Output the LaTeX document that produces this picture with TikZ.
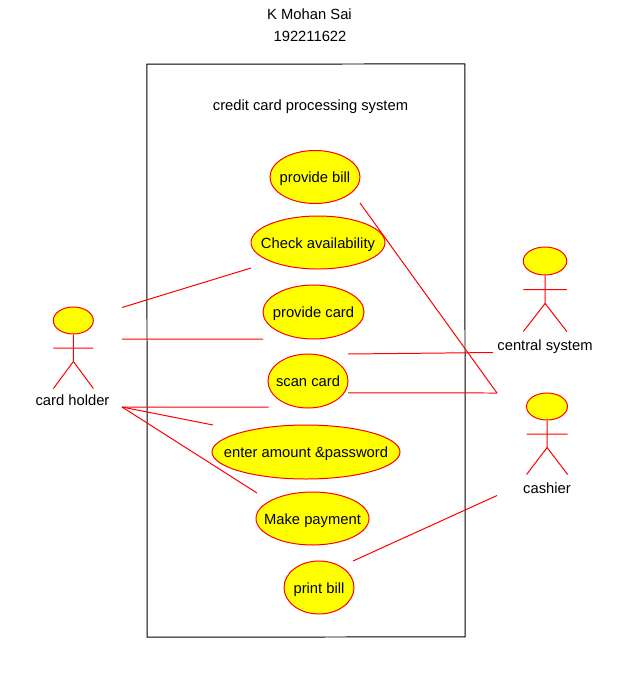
\documentclass[tikz,border=0pt]{standalone}
\usepackage{fontspec}
\setmainfont{Liberation Sans}
\usepackage{xcolor}
\usetikzlibrary{shapes.geometric}
\definecolor{umlred}{RGB}{255,0,0}
\definecolor{umlyellow}{RGB}{255,255,0}
\tikzset{
	usecase/.style={draw=umlred,fill=umlyellow,line width=0.567pt,ellipse,inner sep=0pt,text height=7pt,text depth=0.4pt,font=\fontsize{8.4}{10}\selectfont},
	label/.style={inner sep=0pt,text height=7pt,text depth=0.4pt,font=\fontsize{8.4}{10}\selectfont},
	link/.style={draw=umlred,line width=0.567pt},
}
% text inside an ellipse must not widen it
\newcommand{\uctext}[1]{\makebox[0pt]{#1}}
\newcommand{\actorfig}[4]{%
	\node[usecase,minimum width=#3cm,minimum height=#4cm] (#2head) at (#1) {};
	\draw[link] (#2head.south) -- ++(0.002,-#4) coordinate (#2hip);
	\draw[link] ([shift={(-#3/2,-#4/2)}]#2head.south) -- ++(#3,-0.002);
	\draw[link] (#2hip) -- ++(-#3/2,-#4);
	\draw[link] (#2hip) -- ++(#3/2,-#4);
}
\begin{document}
\begin{tikzpicture}
	\useasboundingbox (0,0) rectangle (12.4,-13.62);
	\fill[white] (0,0) rectangle (12.4,-13.62);

	\node[label] (author) at (6.19,-0.28) {K Mohan Sai};
	\node[label] (regno) at (6.2,-0.72) {192211622};

	\node[draw=black,line width=0.567pt,rotate=0.01,minimum width=6.36cm,minimum height=11.46cm,inner sep=0pt] (system) at (6.12,-7.01) {};
	\node[label] (systemname) at (6.21,-2.1) {credit card processing system};

	\node[usecase,minimum width=1.8cm,minimum height=1.06cm] (bill) at (6.3,-3.54) {\uctext{provide bill}};
	\node[usecase,minimum width=2.68cm,minimum height=1.06cm] (check) at (6.36,-4.85) {\uctext{Check availability}};
	\node[usecase,minimum width=2.02cm,minimum height=1.08cm] (card) at (6.27,-6.24) {\uctext{provide card}};
	\node[usecase,minimum width=1.6cm,minimum height=1.08cm] (scan) at (6.16,-7.62) {\uctext{scan card}};
	\node[usecase,minimum width=3.76cm,minimum height=1.08cm] (amount) at (6.12,-9.04) {\uctext{enter amount \&password}};
	\node[usecase,minimum width=2.26cm,minimum height=1.06cm] (payment) at (6.25,-10.37) {\uctext{Make payment}};
	\node[usecase,minimum width=1.4cm,minimum height=1.06cm] (print) at (6.38,-11.75) {\uctext{print bill}};

	\actorfig{1.466,-6.41}{holder}{0.8}{0.54}
	\actorfig{10.9,-5.22}{central}{0.87}{0.56}
	\actorfig{10.94,-8.13}{cashier}{0.82}{0.54}
	\node[label] (holderlabel) at (1.45,-8) {card holder};
	\node[label] (centrallabel) at (10.9,-6.9) {central system};
	\node[label] (cashierlabel) at (10.94,-9.76) {cashier};

	% free ends of the links
	\coordinate (h1) at (2.44,-6.15);
	\coordinate (h2) at (2.44,-6.78);
	\coordinate (h3) at (2.44,-8.14);
	\coordinate (a1) at (5.02,-5.36);
	\coordinate (a2) at (5.26,-6.782);
	\coordinate (a3) at (5.37,-8.142);
	\coordinate (a4) at (4.26,-8.5);
	\coordinate (a5) at (5.14,-9.86);
	\coordinate (b1) at (7.2,-4.06);
	\coordinate (b2) at (6.96,-7.08);
	\coordinate (b3) at (6.96,-7.858);
	\coordinate (b4) at (7.06,-11.22);
	\coordinate (c1) at (9.94,-7.86);
	\coordinate (c2) at (9.94,-9.91);
	\coordinate (c3) at (9.86,-7.05);

	\draw[link] (h1) -- (a1);
	\draw[link] (h2) -- (a2);
	\draw[link] (h3) -- (a3);
	\draw[link] (h3) -- (a4);
	\draw[link] (h3) -- (a5);
	\draw[link] (b1) -- (c1);
	\draw[link] (b3) -- (c1);
	\draw[link] (b2) -- (c3);
	\draw[link] (b4) -- (c2);
\end{tikzpicture}
\end{document}
